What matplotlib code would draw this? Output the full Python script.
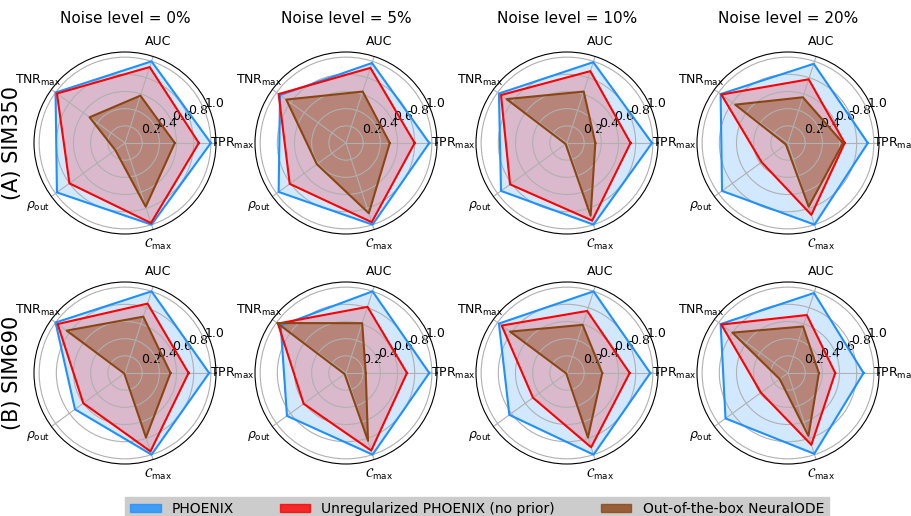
import numpy as np
import matplotlib.pyplot as plt
from matplotlib.patches import Patch
from matplotlib import font_manager

metrics = [r'TPR$_{\max}$', 'AUC', r'TNR$_{\max}$', r'$\rho_{\mathrm{out}}$', r'$\mathcal{C}_{\max}$']
noise_levels = ['0%', '5%', '10%', '20%']
datasets = ['(A) SIM350', '(B) SIM690']

# scores per noise level, metric order as above
phoenix_350 = [[1.00, 1.00, 1.00, 0.98, 1.00],
               [0.97, 0.98, 0.95, 0.97, 1.00],
               [0.99, 0.99, 0.98, 0.95, 1.00],
               [0.93, 0.97, 0.97, 0.95, 1.00]]
unreg_350 = [[0.86, 0.93, 0.98, 0.80, 0.98],
             [0.80, 0.92, 0.97, 0.81, 0.97],
             [0.74, 0.88, 0.95, 0.82, 0.95],
             [0.66, 0.78, 0.96, 0.38, 0.88]]
node_350 = [[0.58, 0.58, 0.51, 0.14, 0.78],
            [0.51, 0.63, 0.86, 0.42, 0.86],
            [0.33, 0.63, 0.87, 0.02, 0.89],
            [0.64, 0.56, 0.76, 0.03, 0.78]]

phoenix_690 = [[0.98, 1.00, 1.00, 0.72, 1.00],
               [0.97, 1.00, 0.94, 0.85, 1.00],
               [0.97, 1.00, 0.98, 0.83, 1.00],
               [0.88, 0.98, 0.97, 0.90, 0.99]]
unreg_690 = [[0.74, 0.85, 0.97, 0.60, 0.96],
             [0.71, 0.81, 0.98, 0.61, 0.95],
             [0.73, 0.76, 0.94, 0.49, 0.91],
             [0.55, 0.71, 0.96, 0.39, 0.88]]
node_690 = [[0.53, 0.69, 0.84, 0.01, 0.79],
            [0.23, 0.61, 0.99, 0.02, 0.83],
            [0.41, 0.59, 0.82, 0.01, 0.79],
            [0.36, 0.57, 0.80, 0.12, 0.77]]

models = ['PHOENIX', 'Unregularized PHOENIX (no prior)', 'Out-of-the-box NeuralODE']
colors = ['dodgerblue', 'red', 'saddlebrown']
fill_alpha = [0.2, 0.2, 0.45]

results = [[phoenix_350, unreg_350, node_350],
           [phoenix_690, unreg_690, node_690]]

angles = np.linspace(0, 2 * np.pi, len(metrics), endpoint=False)
closed = np.append(angles, angles[0])


def legend_font():
    names = {f.name for f in font_manager.fontManager.ttflist}
    if 'Liberation Sans Narrow' in names:
        return font_manager.FontProperties(family='Liberation Sans Narrow', size=12.8)
    return font_manager.FontProperties(family='DejaVu Sans', size=10)


fig = plt.figure(figsize=(9.12, 5.16), dpi=100)

size_w = 182 / 912
size_h = 182 / 516
for r in range(2):
    for c in range(4):
        cx = (125 + c * 221) / 912
        cy = 1 - (143 + r * 230) / 516
        ax = fig.add_axes([cx - size_w / 2, cy - size_h / 2, size_w, size_h], polar=True)
        for m in range(3):
            vals = np.array(results[r][m][c])
            vals = np.append(vals, vals[0])
            ax.fill(closed, vals, color=colors[m], alpha=fill_alpha[m], lw=0)
            ax.plot(closed, vals, color=colors[m], lw=1.5)
        ax.set_ylim(0, 1.06)
        ax.set_yticks([0.2, 0.4, 0.6, 0.8, 1.0])
        ax.set_yticklabels(['0.2', '0.4', '0.6', '0.8', '1.0'], fontsize=9)
        ax.set_xticks(angles)
        ax.set_xticklabels(metrics, fontsize=9)
        ax.tick_params(axis='x', pad=1)
        if r == 0:
            ax.set_title('Noise level = ' + noise_levels[c], fontsize=11, pad=21)
        if c == 0:
            fig.text(0.013, cy, datasets[r], rotation=90, fontsize=15,
                     ha='center', va='center')

handles = [Patch(facecolor=colors[i], edgecolor=colors[i], alpha=0.8) for i in range(3)]
fig.legend(handles, models, loc='upper center', ncol=3,
           bbox_to_anchor=(0.523, 1 - 497 / 516), borderaxespad=0,
           frameon=True, facecolor='#cccccc', edgecolor='#cccccc', framealpha=1,
           prop=legend_font(), handlelength=2.2, handleheight=0.6, borderpad=0.35,
           columnspacing=3.3, fancybox=False)

fig.savefig('out.png', dpi=100)
